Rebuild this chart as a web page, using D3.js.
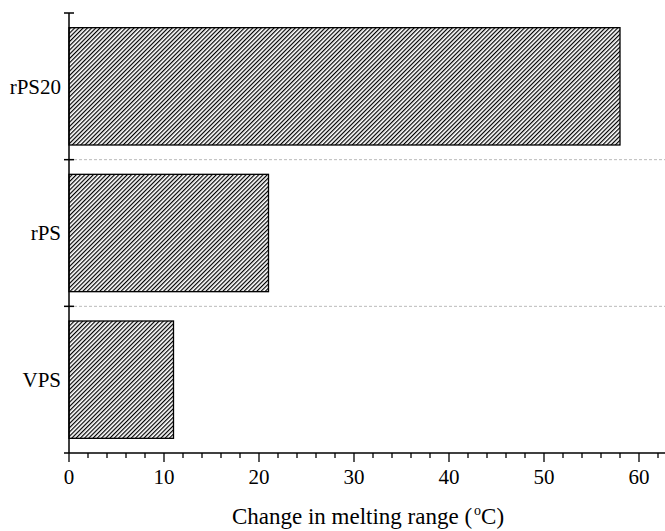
<!DOCTYPE html>
<html>
<head>
<meta charset="utf-8">
<script src="https://cdn.jsdelivr.net/npm/d3@7"></script>
<style>
  body { margin: 0; background: #fff; font-family: 'Liberation Serif', 'Times New Roman', serif; }
  svg { display: block; }
</style>
</head>
<body>
<svg id="chart" width="665" height="531"></svg>
<script>
// 数据
const categories = ["rPS20", "rPS", "VPS"];
const values = [58, 21, 11];
const xTicks = [0, 10, 20, 30, 40, 50, 60];

const width = 665, height = 531;
const margin = { top: 13, right: 0, bottom: 78, left: 69 };
const serif = "'Liberation Serif', 'Times New Roman', serif";

const svg = d3.select("#chart");

// 斜线填充
const defs = svg.append("defs");
const pat = defs.append("pattern")
    .attr("id", "hatch")
    .attr("patternUnits", "userSpaceOnUse")
    .attr("width", 3)
    .attr("height", 3)
    .attr("patternTransform", "rotate(45)");
pat.append("rect").attr("width", 3).attr("height", 3).attr("fill", "#fff");
pat.append("line")
    .attr("x1", 0.6).attr("y1", 0)
    .attr("x2", 0.6).attr("y2", 3)
    .attr("stroke", "#000")
    .attr("stroke-width", 1.2);

const x = d3.scaleLinear()
    .domain([0, 63])
    .range([margin.left, margin.left + 63 * 9.5]);

const plotBottom = height - margin.bottom;
const bandH = (plotBottom - margin.top) / categories.length;
const y = d3.scaleBand()
    .domain(categories)
    .range([margin.top, plotBottom])
    .paddingInner(0.2)
    .paddingOuter(0.1);

// 分隔虚线
const boundaries = [1, 2].map(i => margin.top + i * bandH);
svg.selectAll(".grid")
    .data(boundaries)
    .enter()
    .append("line")
    .attr("x1", margin.left)
    .attr("x2", width)
    .attr("y1", d => d)
    .attr("y2", d => d)
    .attr("stroke", "#bbb")
    .attr("stroke-width", 1)
    .attr("stroke-dasharray", "3,2");

// 条形
svg.selectAll(".bar")
    .data(categories)
    .enter()
    .append("rect")
    .attr("x", x(0))
    .attr("y", d => y(d))
    .attr("width", (d, i) => x(values[i]) - x(0))
    .attr("height", y.bandwidth())
    .attr("fill", "url(#hatch)")
    .attr("stroke", "#000")
    .attr("stroke-width", 1.3);

// X 轴
const xAxisG = svg.append("g").attr("transform", `translate(0,${plotBottom})`);
xAxisG.append("line")
    .attr("x1", margin.left - 5).attr("x2", width)
    .attr("stroke", "#000").attr("stroke-width", 1.5);
const minor = d3.range(0, 64, 2).filter(v => v % 10 !== 0);
xAxisG.selectAll(".minor")
    .data(minor)
    .enter()
    .append("line")
    .attr("x1", d => x(d)).attr("x2", d => x(d))
    .attr("y1", 0).attr("y2", 5)
    .attr("stroke", "#000").attr("stroke-width", 1.3);
xAxisG.selectAll(".major")
    .data(xTicks)
    .enter()
    .append("line")
    .attr("x1", d => x(d)).attr("x2", d => x(d))
    .attr("y1", 0).attr("y2", 9)
    .attr("stroke", "#000").attr("stroke-width", 1.3);
xAxisG.selectAll(".tl")
    .data(xTicks)
    .enter()
    .append("text")
    .attr("x", d => x(d))
    .attr("y", 31)
    .attr("text-anchor", "middle")
    .style("font-family", serif)
    .style("font-size", "21px")
    .text(d => d);

// X 轴标题
const title = svg.append("text")
    .attr("x", 368)
    .attr("y", 524)
    .attr("text-anchor", "middle")
    .style("font-family", serif)
    .style("font-size", "23px");
title.append("tspan").text("Change in melting range (");
title.append("tspan").style("font-size", "14px").attr("dx", 2).attr("dy", -9).text("o");
title.append("tspan").attr("dy", 9).text("C)");

// Y 轴
svg.append("line")
    .attr("x1", margin.left).attr("x2", margin.left)
    .attr("y1", margin.top).attr("y2", plotBottom)
    .attr("stroke", "#000").attr("stroke-width", 1.5);
svg.selectAll(".ytick")
    .data([margin.top, ...boundaries])
    .enter()
    .append("line")
    .attr("x1", margin.left - 5).attr("x2", margin.left + 5)
    .attr("y1", d => d).attr("y2", d => d)
    .attr("stroke", "#000").attr("stroke-width", 1.5);
svg.selectAll(".yl")
    .data(categories)
    .enter()
    .append("text")
    .attr("x", 61)
    .attr("y", d => y(d) + y.bandwidth() / 2)
    .attr("dy", "0.35em")
    .attr("text-anchor", "end")
    .style("font-family", serif)
    .style("font-size", "21px")
    .text(d => d);
</script>
</body>
</html>
